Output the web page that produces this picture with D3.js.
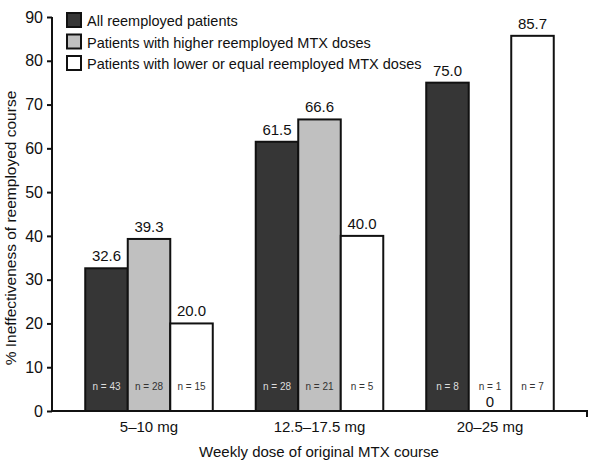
<!DOCTYPE html>
<html><head><meta charset="utf-8">
<script src="https://cdn.jsdelivr.net/npm/d3@7"></script>
<style>body{margin:0;background:#fff}text{font-family:"Liberation Sans",Arial,Helvetica,sans-serif}</style>
</head><body><svg id="c" width="600" height="465"></svg>
<script>
const categories = ["5–10 mg", "12.5–17.5 mg", "20–25 mg"];
const seriesNames = ["All reemployed patients", "Patients with higher reemployed MTX doses", "Patients with lower or equal reemployed MTX doses"];
const allValues = [32.6, 61.5, 75.0];
const higherValues = [39.3, 66.6, 0];
const lowerValues = [20.0, 40.0, 85.7];
const allN = [43, 28, 8];
const higherN = [28, 21, 1];
const lowerN = [15, 5, 7];
const yTicks = [0, 10, 20, 30, 40, 50, 60, 70, 80, 90];

const fills = ["#363636", "#c0c0c0", "#ffffff"];
const nColors = ["#dddddd", "#333333", "#333333"];
const values = [allValues, higherValues, lowerValues];
const ns = [allN, higherN, lowerN];

const svg = d3.select("#c");
const x0 = d3.scaleBand().domain(categories).range([52, 587]).paddingInner(0.252).paddingOuter(0.195);
const x1 = d3.scaleBand().domain([0,1,2]).range([0, x0.bandwidth()]);
const y = d3.scaleLinear().domain([0, 90]).range([411, 17]);

const data = [];
categories.forEach((c, i) => values.forEach((v, s) => data.push({c, s, v: v[i], n: ns[s][i]})));

const g = svg.append("g");
g.selectAll("rect.bar").data(data).join("rect")
  .attr("x", d => x0(d.c) + x1(d.s))
  .attr("y", d => y(d.v))
  .attr("width", x1.bandwidth())
  .attr("height", d => y(0) - y(d.v))
  .attr("fill", d => fills[d.s])
  .attr("stroke", "#111").attr("stroke-width", 2);

g.selectAll("text.val").data(data).join("text")
  .attr("x", d => x0(d.c) + x1(d.s) + x1.bandwidth()/2)
  .attr("y", d => d.v === 0 ? 407 : y(d.v) - 7)
  .attr("text-anchor", "middle").attr("font-size", 15).attr("fill", "#111")
  .text(d => d.v === 0 ? "0" : d3.format(".1f")(d.v));

g.selectAll("text.n").data(data).join("text")
  .attr("x", d => x0(d.c) + x1(d.s) + x1.bandwidth()/2)
  .attr("y", 390)
  .attr("text-anchor", "middle").attr("font-size", 10).attr("fill", d => nColors[d.s])
  .text(d => "n = " + d.n);

// axes
const yAxis = svg.append("g").attr("transform", "translate(52,0)")
  .call(d3.axisLeft(y).tickValues(yTicks).tickSize(5).tickPadding(4));
yAxis.select(".domain").attr("stroke", "#111").attr("stroke-width", 2).attr("d", "M0,17V411");
yAxis.selectAll(".tick line").attr("stroke", "#111").attr("stroke-width", 2);
yAxis.selectAll(".tick text").attr("font-size", 16).attr("fill", "#111").style("font-family", "Liberation Sans, Arial, sans-serif");

const xAxis = svg.append("g").attr("transform", "translate(0,411)")
  .call(d3.axisBottom(x0).tickSize(0).tickPadding(10));
xAxis.select(".domain").attr("stroke", "#111").attr("stroke-width", 2).attr("d", "M52,0H587V6");
xAxis.selectAll(".tick text").attr("font-size", 15).attr("fill", "#111").style("font-family", "Liberation Sans, Arial, sans-serif");

svg.append("text").attr("x", 319).attr("y", 457).attr("text-anchor", "middle")
  .attr("font-size", 15).attr("fill", "#111").text("Weekly dose of original MTX course");
svg.append("text").attr("transform", "translate(16,228) rotate(-90)").attr("text-anchor", "middle")
  .attr("font-size", 15.5).attr("fill", "#111").text("% Ineffectiveness of reemployed course");

// legend
const leg = svg.append("g");
seriesNames.forEach((name, i) => {
  leg.append("rect").attr("x", 67).attr("y", 13 + i*21.5).attr("width", 14).attr("height", 14)
    .attr("fill", fills[i]).attr("stroke", "#111").attr("stroke-width", 2);
  leg.append("text").attr("x", 87).attr("y", 26 + i*21.5).attr("font-size", 14.5).attr("fill", "#111").text(name);
});
</script></body></html>
